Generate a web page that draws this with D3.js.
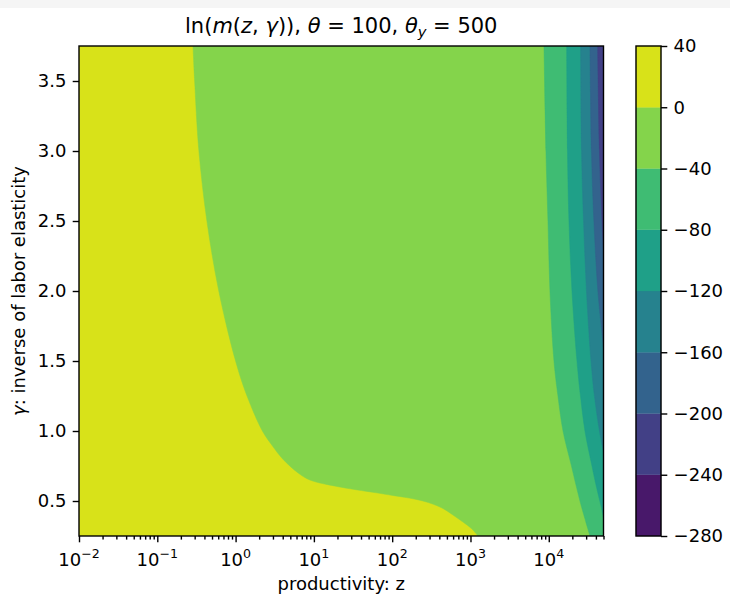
<!DOCTYPE html>
<html>
<head>
<meta charset="utf-8">
<script src="https://cdn.jsdelivr.net/npm/d3@7"></script>
<style>
  html, body { margin: 0; padding: 0; background: #ffffff; }
  svg text { font-family: "DejaVu Sans", sans-serif; fill: #000; }
</style>
</head>
<body>
<svg id="chart" width="730" height="596"></svg>
<script>
// ---------------- data ----------------
const levels = [-280, -240, -200, -160, -120, -80, -40, 0, 40];
const zDomain = [0.01, 50000];
const gammaDomain = [0.25, 3.75];
const xTickExps = [-2, -1, 0, 1, 2, 3, 4];
const yTicks = [0.5, 1.0, 1.5, 2.0, 2.5, 3.0, 3.5];

// contour boundary at level 0
const gammaB0 = [3.75, 3.5, 3.0, 2.5, 2.0, 1.5, 1.25, 1.0, 0.9, 0.8, 0.7, 0.65, 0.6, 0.55, 0.5, 0.45, 0.4, 0.35, 0.3, 0.25];
const zB0 = [0.286, 0.30, 0.34, 0.43, 0.61, 1.0, 1.4, 2.2, 2.9, 4.0, 6.3, 8.9, 21.5, 78, 247, 433, 598, 802, 1045, 1247];
// level -40
const gammaB40 = [3.75, 3.0, 2.5, 2.0, 1.5, 1.25, 1.0, 0.75, 0.5, 0.25];
const zB40 = [8690, 9200, 9770, 10350, 11650, 13100, 15200, 19500, 25000, 33600];
// level -80
const gammaB80 = [3.75, 3.0, 2.5, 2.0, 1.5, 1.25, 1.0, 0.75, 0.6, 0.45, 0.38];
const zB80 = [16930, 17340, 18110, 19780, 22910, 25400, 28970, 35630, 40650, 47100, 50000];
// level -120
const gammaB120 = [3.75, 3.0, 2.5, 2.0, 1.5, 1.25, 1.0, 0.85];
const zB120 = [25500, 26200, 27800, 30300, 34600, 38300, 44400, 50000];
// level -160
const gammaB160 = [3.75, 3.0, 2.5, 2.0, 1.6];
const zB160 = [33600, 35100, 37700, 42400, 50000];
// level -200
const gammaB200 = [3.75, 3.0, 2.5, 2.3];
const zB200 = [42100, 44400, 47800, 50000];

const boundaries = [
  { level: 0, g: gammaB0, z: zB0 },
  { level: -40, g: gammaB40, z: zB40 },
  { level: -80, g: gammaB80, z: zB80 },
  { level: -120, g: gammaB120, z: zB120 },
  { level: -160, g: gammaB160, z: zB160 },
  { level: -200, g: gammaB200, z: zB200 }
];

// ---------------- layout ----------------
const FS = 18;
const TFS = 21;
const plot = { left: 79, top: 46, right: 603.5, bottom: 536 };
const cbar = { left: 636, right: 661 };

const svg = d3.select("#chart");
svg.append("rect").attr("x", 0).attr("y", 0).attr("width", 730).attr("height", 596).attr("fill", "#ffffff");
svg.append("rect").attr("x", 0).attr("y", 0).attr("width", 730).attr("height", 8).attr("fill", "#f5f5f5");

const x = d3.scaleLog().domain(zDomain).range([plot.left, plot.right]);
const y = d3.scaleLinear().domain(gammaDomain).range([plot.bottom, plot.top]);
const vmin = d3.min(levels), vmax = d3.max(levels);
const bandColor = (lo, hi) => d3.interpolateViridis(((lo + hi) / 2 - vmin) / (vmax - vmin));

svg.append("clipPath").attr("id", "clip").append("rect")
  .attr("x", plot.left).attr("y", plot.top)
  .attr("width", plot.right - plot.left).attr("height", plot.bottom - plot.top);

const gPlot = svg.append("g").attr("clip-path", "url(#clip)");
gPlot.append("rect")
  .attr("x", plot.left).attr("y", plot.top)
  .attr("width", plot.right - plot.left).attr("height", plot.bottom - plot.top)
  .attr("fill", bandColor(0, 40));

const line = d3.line().x(d => x(d[0])).y(d => y(d[1])).curve(d3.curveCatmullRom.alpha(0.5));
boundaries.forEach(b => {
  const pts = b.z.map((z, i) => [z, b.g[i]]);
  const last = pts[pts.length - 1];
  const path = line(pts) +
    "L" + x(zDomain[1]) + "," + y(last[1]) +
    "L" + x(zDomain[1]) + "," + y(gammaDomain[1]) + "Z";
  gPlot.append("path").attr("d", path)
    .attr("fill", bandColor(b.level - 40, b.level))
    .attr("stroke", bandColor(b.level - 40, b.level)).attr("stroke-width", 0.5);
});

// ---------------- axes ----------------
const majorLen = 6.3, minorLen = 3.6, pad = 6.3, lw = 1.4;
const gx = svg.append("g").attr("transform", `translate(0,${plot.bottom})`);
const minorX = [];
xTickExps.concat([5]).forEach(e => { for (let k = 2; k <= 9; k++) { const v = k * Math.pow(10, e - 1); if (v > zDomain[0] && v <= zDomain[1]) minorX.push(v); } });
gx.call(d3.axisBottom(x).tickValues(minorX).tickSize(minorLen).tickFormat(""));
gx.select(".domain").remove();
const gxMaj = svg.append("g").attr("transform", `translate(0,${plot.bottom})`);
gxMaj.call(d3.axisBottom(x).tickValues(xTickExps.map(e => Math.pow(10, e))).tickSize(majorLen).tickFormat(""));
gxMaj.select(".domain").remove();
svg.selectAll(".tick line").attr("stroke", "#000").attr("stroke-width", lw);

xTickExps.forEach(e => {
  const t = svg.append("text").attr("x", x(Math.pow(10, e))).attr("y", 566)
    .attr("text-anchor", "middle").attr("font-size", FS);
  t.append("tspan").text("10");
  t.append("tspan").attr("dy", -8).attr("font-size", FS * 0.7).text(e < 0 ? "\u2212" + Math.abs(e) : String(e));
});

const gy = svg.append("g").attr("transform", `translate(${plot.left},0)`);
gy.call(d3.axisLeft(y).tickValues(yTicks).tickSize(majorLen).tickPadding(pad).tickFormat(d3.format(".1f")));
gy.select(".domain").remove();
gy.selectAll(".tick line").attr("stroke", "#000").attr("stroke-width", lw);
gy.selectAll(".tick text").attr("font-size", FS).attr("font-family", "DejaVu Sans").attr("fill", "#000");

// frame
svg.append("rect").attr("x", plot.left).attr("y", plot.top)
  .attr("width", plot.right - plot.left).attr("height", plot.bottom - plot.top)
  .attr("fill", "none").attr("stroke", "#000").attr("stroke-width", lw);

// ---------------- labels ----------------
svg.append("text").attr("x", (plot.left + plot.right) / 2).attr("y", 590)
  .attr("text-anchor", "middle").attr("font-size", FS).text("productivity: z");

const yl = svg.append("text").attr("transform", `translate(25,${(plot.top + plot.bottom) / 2}) rotate(-90)`)
  .attr("text-anchor", "middle").attr("font-size", FS);
yl.append("tspan").attr("font-style", "italic").text("\u03b3");
yl.append("tspan").text(": inverse of labor elasticity");

const title = svg.append("text").attr("x", (plot.left + plot.right) / 2).attr("y", 33)
  .attr("text-anchor", "middle").attr("font-size", TFS);
title.append("tspan").text("ln(");
title.append("tspan").attr("font-style", "italic").text("m");
title.append("tspan").text("(");
title.append("tspan").attr("font-style", "italic").text("z");
title.append("tspan").text(", ");
title.append("tspan").attr("font-style", "italic").text("\u03b3");
title.append("tspan").text(")), ");
title.append("tspan").attr("font-style", "italic").text("\u03b8");
title.append("tspan").text(" = 100, ");
title.append("tspan").attr("font-style", "italic").text("\u03b8");
title.append("tspan").attr("font-style", "italic").attr("font-size", TFS * 0.7).attr("dy", 4).text("y");
title.append("tspan").attr("dy", -4).text(" = 500");

// ---------------- colorbar ----------------
const cy = d3.scaleLinear().domain([vmin, vmax]).range([plot.bottom, plot.top]);
const gcb = svg.append("g");
for (let i = 0; i < levels.length - 1; i++) {
  gcb.append("rect").attr("x", cbar.left).attr("y", cy(levels[i + 1]))
    .attr("width", cbar.right - cbar.left).attr("height", cy(levels[i]) - cy(levels[i + 1]))
    .attr("fill", bandColor(levels[i], levels[i + 1]))
    .attr("stroke", bandColor(levels[i], levels[i + 1])).attr("stroke-width", 0.3);
}
gcb.append("rect").attr("x", cbar.left).attr("y", plot.top)
  .attr("width", cbar.right - cbar.left).attr("height", plot.bottom - plot.top)
  .attr("fill", "none").attr("stroke", "#000").attr("stroke-width", lw);
const gcbAxis = svg.append("g").attr("transform", `translate(${cbar.right},0)`);
gcbAxis.call(d3.axisRight(cy).tickValues(levels).tickSize(majorLen).tickPadding(pad)
  .tickFormat(d => d < 0 ? "\u2212" + Math.abs(d) : String(d)));
gcbAxis.select(".domain").remove();
gcbAxis.selectAll(".tick line").attr("stroke", "#000").attr("stroke-width", lw);
gcbAxis.selectAll(".tick text").attr("font-size", FS).attr("font-family", "DejaVu Sans").attr("fill", "#000");
</script>
</body>
</html>
